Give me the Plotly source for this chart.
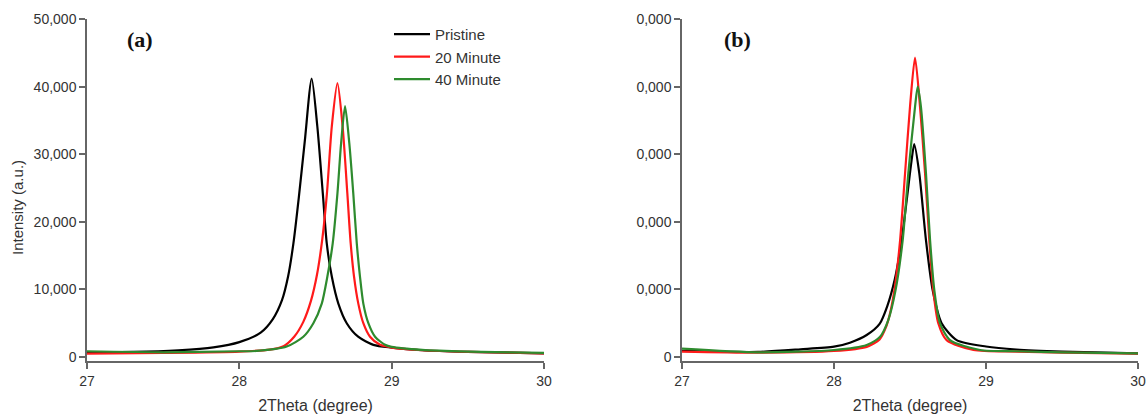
import plotly.graph_objects as go

# ---------------- data ----------------
# Panel (a)
a_black_x = [27.0, 27.3, 27.6, 27.83, 28.0, 28.14, 28.22, 28.28, 28.32, 28.355, 28.39, 28.43, 28.475,
             28.512, 28.548, 28.574, 28.607, 28.65, 28.705, 28.78, 28.88, 29.0, 29.2, 29.5, 30.0]
a_black_y = [700, 750, 1000, 1430, 2200, 3600, 5600, 8400, 11900, 16800, 23500, 32000, 41200,
             34100, 24200, 16800, 11900, 7900, 5000, 3000, 1800, 1400, 1000, 750, 550]

a_red_x = [27.0, 27.5, 28.0, 28.2, 28.29, 28.36, 28.42, 28.47, 28.51, 28.545, 28.575, 28.607, 28.644,
           28.678, 28.709, 28.731, 28.753, 28.781, 28.814, 28.858, 28.924, 29.0, 29.2, 29.5, 30.0]
a_red_y = [500, 600, 800, 1100, 1600, 3000, 5200, 8300, 12200, 17500, 24200, 34100, 40500,
           34100, 24200, 16800, 11900, 7900, 5000, 3000, 1800, 1400, 1000, 750, 550]

a_green_x = [27.0, 27.5, 28.0, 28.114, 28.311, 28.42, 28.486, 28.541, 28.578, 28.613, 28.644, 28.668, 28.694,
             28.722, 28.748, 28.771, 28.792, 28.814, 28.847, 28.891, 28.957, 29.0, 29.2, 29.5, 30.0]
a_green_y = [850, 700, 850, 900, 1550, 3000, 5000, 7900, 11900, 16800, 24200, 31600, 37100,
             31600, 24200, 16800, 11900, 7900, 5000, 3000, 1800, 1500, 1050, 800, 600]

# Panel (b)
b_black_x = [27.0, 27.5, 27.78, 28.0, 28.105, 28.215, 28.30, 28.35, 28.40, 28.44, 28.48, 28.51, 28.528,
             28.561, 28.605, 28.649, 28.708, 28.807, 29.0, 29.2, 29.5, 30.0]
b_black_y = [900, 750, 1140, 1530, 2120, 3250, 4900, 7500, 11500, 16500, 23500, 29000, 31500,
             27200, 17300, 9900, 5000, 2500, 1550, 1100, 800, 550]

b_red_x = [27.0, 27.5, 28.0, 28.215, 28.30, 28.34, 28.37, 28.40, 28.435, 28.467, 28.50, 28.533,
           28.566, 28.599, 28.627, 28.653, 28.686, 28.741, 28.917, 29.2, 29.5, 30.0]
b_red_y = [800, 650, 900, 1500, 2600, 4300, 6600, 10300, 17300, 27000, 37000, 44300,
           37000, 27200, 17300, 9900, 5000, 2500, 1035, 800, 650, 500]

b_green_x = [27.0, 27.5, 28.0, 28.215, 28.303, 28.357, 28.405, 28.452, 28.489, 28.533, 28.551,
             28.572, 28.605, 28.632, 28.66, 28.697, 28.763, 28.961, 29.2, 29.5, 30.0]
b_green_y = [1250, 700, 1035, 1775, 3000, 5470, 9900, 17300, 27200, 37000, 40000,
             37000, 27200, 17300, 9900, 5000, 2500, 1035, 850, 700, 550]

series_names = ["Pristine", "20 Minute", "40 Minute"]
series_colors = ["#000000", "#ff1a1a", "#2e8b2e"]

x_ticks = [27, 28, 29, 30]
y_ticks = [0, 10000, 20000, 30000, 40000, 50000]
a_y_labels = ["0", "10,000", "20,000", "30,000", "40,000", "50,000"]
b_y_labels = ["0", "0,000", "0,000", "0,000", "0,000", "0,000"]

# ---------------- figure ----------------
W, H = 1148, 415
fig = go.Figure()

panel_a = [(a_black_x, a_black_y), (a_red_x, a_red_y), (a_green_x, a_green_y)]
panel_b = [(b_black_x, b_black_y), (b_red_x, b_red_y), (b_green_x, b_green_y)]

for (xs, ys), name, col in zip(panel_a, series_names, series_colors):
    fig.add_trace(go.Scatter(x=xs, y=ys, mode="lines", name=name,
                             line=dict(color=col, width=2.2, shape="spline", smoothing=0.7),
                             xaxis="x", yaxis="y", showlegend=True))
for (xs, ys), name, col in zip(panel_b, series_names, series_colors):
    fig.add_trace(go.Scatter(x=xs, y=ys, mode="lines", name=name,
                             line=dict(color=col, width=2.2, shape="spline", smoothing=0.7),
                             xaxis="x2", yaxis="y2", showlegend=False))

font_sans = "Arial, Liberation Sans, sans-serif"
axis_col = "#666666"
tick_font = dict(family=font_sans, size=14, color="#333333")

def xaxis_cfg(dom, anchor):
    return dict(domain=dom, anchor=anchor, range=[27, 30], tickvals=x_ticks,
                ticktext=[str(t) for t in x_ticks], ticks="outside", ticklen=6, tickwidth=1.5,
                tickcolor=axis_col, showline=True, linecolor=axis_col, linewidth=1.5,
                showgrid=False, zeroline=False, tickfont=tick_font,
                title=dict(text="2Theta (degree)", font=dict(family=font_sans, size=16, color="#333333"),
                           standoff=12))

def yaxis_cfg(anchor, labels):
    return dict(domain=[0, 1], anchor=anchor, range=[-590, 50000], tickvals=y_ticks,
                ticktext=labels, ticks="outside", ticklen=6, tickwidth=1.5, tickcolor=axis_col,
                showline=True, linecolor=axis_col, linewidth=1.5, showgrid=False, zeroline=False,
                tickfont=tick_font)

fig.update_layout(
    width=W, height=H,
    margin=dict(l=0, r=0, t=19, b=54, autoexpand=False),
    paper_bgcolor="white", plot_bgcolor="white",
    xaxis=xaxis_cfg([87 / W, 544 / W], "y"),
    yaxis=yaxis_cfg("x", a_y_labels),
    xaxis2=xaxis_cfg([682 / W, 1138 / W], "y2"),
    yaxis2=yaxis_cfg("x2", b_y_labels),
    legend=dict(x=389 / W, y=1.003, xanchor="left", yanchor="top",
                font=dict(family=font_sans, size=15, color="#333333"),
                bgcolor="rgba(0,0,0,0)", tracegroupgap=0, itemwidth=36),
    annotations=[
        dict(text="Intensity (a.u.)", textangle=-90, xref="paper", yref="paper",
             x=18 / W, y=(361 - 208) / 342, xanchor="center", yanchor="middle", showarrow=False,
             font=dict(family=font_sans, size=15, color="#333333")),
        dict(text="<b>(a)</b>", xref="paper", yref="paper", x=140 / W, y=(361 - 40) / 342,
             xanchor="center", yanchor="middle", showarrow=False,
             font=dict(family="Times New Roman, Liberation Serif, serif", size=22, color="#111111")),
        dict(text="<b>(b)</b>", xref="paper", yref="paper", x=737 / W, y=(361 - 40) / 342,
             xanchor="center", yanchor="middle", showarrow=False,
             font=dict(family="Times New Roman, Liberation Serif, serif", size=22, color="#111111")),
    ],
)

fig.write_html("out.html")
